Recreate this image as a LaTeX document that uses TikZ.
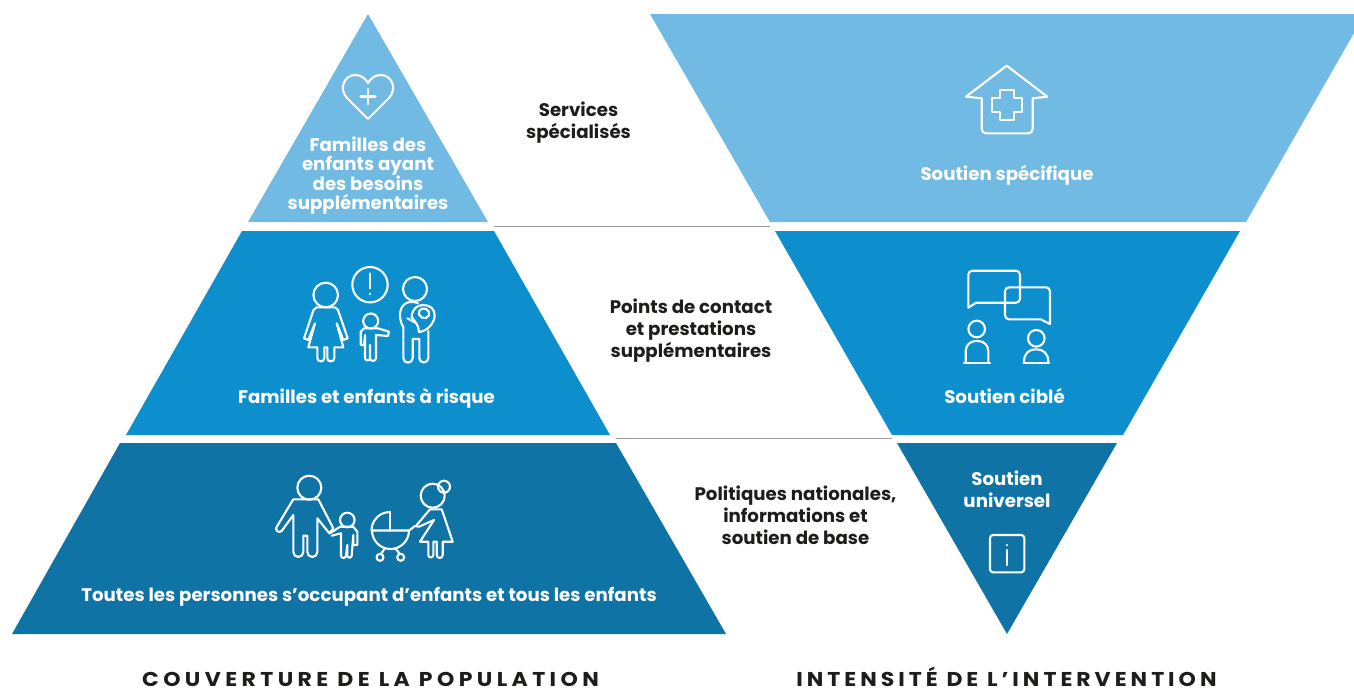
\documentclass[tikz,border=0pt]{standalone}
\usepackage{fontspec}
\setmainfont{Poppins}
\definecolor{lightblue}{HTML}{70BAE3}
\definecolor{midblue}{HTML}{0D8FCE}
\definecolor{darkblue}{HTML}{1073A6}
\definecolor{inktext}{HTML}{1D1D1B}
\tikzset{
  onbar/.style={text=white, font=\fontsize{18.2}{19.5}\selectfont\bfseries, align=center, inner sep=0pt},
  midtext/.style={text=inktext, font=\fontsize{18.2}{22}\selectfont\bfseries, align=center, inner sep=0pt},
  axistitle/.style={text=inktext, font=\fontsize{20}{22}\selectfont\bfseries\addfontfeature{FakeStretch=1.1,LetterSpace=#1}, inner sep=0pt, anchor=base},
  icon/.style={draw=white, line width=2.1pt, line join=round, line cap=round},
  rulegrey/.style={draw=gray!80, line width=0.7pt},
}
\begin{document}
\begin{tikzpicture}[x=1pt,y=-1pt]
    \useasboundingbox (0,0) rectangle (1354,688);

    % left pyramid
    \fill[lightblue] (368,14) -- (488,222) -- (248,222) -- cycle;
    \fill[midblue] (242,231) -- (494,231) -- (610,435) -- (126,435) -- cycle;
    \fill[darkblue] (120,443) -- (616,443) -- (726,634) -- (12,634) -- cycle;

    % right pyramid
    \fill[lightblue] (650,14) -- (1354,14) -- (1354,33) -- (1246,222) -- (770,222) -- cycle;
    \fill[midblue] (775,231) -- (1240,231) -- (1123,435) -- (892,435) -- cycle;
    \fill[darkblue] (897,443) -- (1117,443) -- (1007,634) -- cycle;

    % rules between the levels
    \coordinate (ruleAl) at (494,226);
    \coordinate (ruleAr) at (770,226);
    \coordinate (ruleBl) at (616,438.5);
    \coordinate (ruleBr) at (892,438.5);
    \draw[rulegrey] (ruleAl) -- (ruleAr);
    \draw[rulegrey] (ruleBl) -- (ruleBr);

    % heart
    \draw[icon] (368,119) -- (347,98) .. controls (338,88) and (345,75) .. (355,75)
        .. controls (361,75) and (365,78) .. (368,83) .. controls (371,78) and (375,75) .. (381,75)
        .. controls (391,75) and (398,88) .. (389,98) -- cycle;
    \draw[icon] (368,89) -- (368,104);
    \draw[icon] (360.5,96.5) -- (375.5,96.5);

    % woman, alert, child, man with baby
    \draw[icon] (325.7,295) circle [radius=12.3];
    \draw[icon] (316.7,307.3) -- (335,307.3) .. controls (337,308) .. (338,310) -- (347.7,338.3) -- (343.3,340) -- (336.7,323.3)
        -- (343.3,347.3) -- (334.3,347.3) -- (334.3,358) arc [start angle=0, end angle=180, radius=3.5] -- (327.3,347.3)
        -- (324.3,347.3) -- (324.3,358) arc [start angle=0, end angle=180, radius=3.5] -- (317.3,347.3)
        -- (308.3,347.3) -- (315,323.3) -- (308.3,340) -- (304,338.3) -- (313.5,310) .. controls (314.5,308) .. cycle;
    \draw[icon] (370,284.7) circle [radius=17.7];
    \draw[icon] (370,273.3) -- (370,288.3);
    \draw[icon] (370,293.7) -- (370,294);
    \draw[icon] (370.7,321) circle [radius=7.5];
    \draw[icon] (364,328.3) -- (378,328.3) -- (389,331.7) -- (388,336) -- (376,335) -- (376,358)
        arc [start angle=0, end angle=180, radius=3] -- (370,345) -- (370,358)
        arc [start angle=0, end angle=180, radius=2.5] -- (365,335) -- (364,345) -- (360.7,345) -- (360.7,331.7) -- cycle;
    \draw[icon] (415,289) circle [radius=12];
    \draw[icon] (418,303) .. controls (405,299) and (400,307) .. (400,315) .. controls (400,321) and (402,325) .. (403.3,327)
        -- (403.3,358) arc [start angle=180, end angle=0, radius=4.7] -- (412.7,339) -- (419.3,339) -- (419.3,358)
        arc [start angle=180, end angle=0, radius=4.5] -- (428.3,331);
    \draw[icon] (411.7,317) .. controls (412,309) and (417,305) .. (423.3,305) .. controls (430,305) and (435,309) .. (434.7,316)
        .. controls (434,323) and (428,331) .. (419,332);
    \draw[icon] (407.3,318.3) -- (416,323) .. controls (418,326) .. (419,332);
    \draw[icon] (411.7,317) -- (416,323);
    \draw[icon, rotate around={-25:(424,313.3)}] (424,313.3) ellipse [x radius=5.3, y radius=4.8];

    % man, child, pram, woman
    \draw[icon] (309.3,487.7) circle [radius=12];
    \draw[icon] (293.3,499.3) -- (318.3,499.3) -- (333.3,528.3) -- (329.3,533.3) -- (317.3,518.3) -- (317.3,552)
        arc [start angle=0, end angle=180, radius=5] -- (307.3,535.7) -- (303.3,535.7) -- (303.3,552)
        arc [start angle=0, end angle=180, radius=5] -- (293.3,515) -- (281.7,531)
        arc [start angle=45, end angle=225, radius=3.3] -- cycle;
    \draw[icon] (347.3,520) circle [radius=7.3];
    \draw[icon] (330,533.3) -- (340,526.7) -- (353.3,526.7) -- (357.3,531.7) -- (357.3,545) -- (353.3,545) -- (353.3,535) -- (351.7,555.5)
        arc [start angle=0, end angle=180, radius=2.2] -- (347.3,545) -- (346,555.5)
        arc [start angle=0, end angle=180, radius=2.5] -- (341,533.3) -- (331.7,535.7);
    \draw[icon] (390,512) arc [start angle=270, end angle=180, radius=18.5] -- (409,530.5)
        arc [start angle=0, end angle=180, radius=18.5];
    \draw[icon] (390,512) -- (390,530.5);
    \draw[icon] (409,530.5) -- (415,526) -- (419,526.7) -- (434,520);
    \draw[icon] (385,548) -- (381,554);
    \draw[icon] (395,548) -- (400,554);
    \draw[icon] (380,557.3) circle [radius=3.5];
    \draw[icon] (400.7,557.3) circle [radius=3.5];
    \draw[icon] (432.7,495.7) circle [radius=12];
    \draw[icon] (444,486.7) circle [radius=6];
    \draw[icon] (430,509.3) -- (416.7,525);
    \draw[icon] (430,509.3) -- (441.7,509.3) -- (452.7,541.7) -- (442.7,541.7) -- (442.7,555)
        arc [start angle=0, end angle=180, radius=3] -- (436.7,541.7) -- (433.3,541.7) -- (433.3,555)
        arc [start angle=0, end angle=180, radius=2.5] -- (428.3,541.7) -- (420,541.7) -- (434,520);

    % house
    \draw[icon] (1006.7,65.7) -- (1047.3,96.7) -- (1032.7,98.3) -- (1032.7,129)
        arc [start angle=0, end angle=90, radius=4.3] -- (986,133.3)
        arc [start angle=90, end angle=180, radius=4.3] -- (981.7,98.3) -- (966,96.7) -- cycle;
    \draw[icon] (999.7,90) -- (1013.7,90) -- (1013.7,98) -- (1021.7,98) -- (1021.7,112) -- (1013.7,112) -- (1013.7,120)
        -- (999.7,120) -- (999.7,112) -- (991.7,112) -- (991.7,98) -- (999.7,98) -- cycle;

    % speech bubbles and people
    \draw[icon] (972.3,270.7) -- (1016,270.7) arc [start angle=270, end angle=360, radius=4] -- (1020,298.7)
        arc [start angle=0, end angle=90, radius=4] -- (976,302.7) -- (968.3,307.7) -- (968.3,274.7)
        arc [start angle=180, end angle=270, radius=4];
    \draw[icon] (1009,287.3) -- (1046,287.3) arc [start angle=270, end angle=360, radius=4] -- (1050,324) -- (1040.7,319.3)
        -- (1009,319.3) arc [start angle=90, end angle=180, radius=4] -- (1005,291.3)
        arc [start angle=180, end angle=270, radius=4];
    \draw[icon] (976.7,329) circle [radius=8.3];
    \draw[icon] (965.7,362) -- (965.7,351) arc [start angle=180, end angle=270, radius=10] -- (978.3,341)
        arc [start angle=270, end angle=360, radius=10] -- (988.3,362);
    \draw[icon] (964,362.8) -- (990,362.8);
    \draw[icon] (1036.3,338.3) circle [radius=8.3];
    \draw[icon] (1024,362) .. controls (1024,353) and (1029,349.3) .. (1036,349.3)
        .. controls (1043,349.3) and (1048.3,353) .. (1048.3,362);
    \draw[icon] (1023.3,362.8) -- (1049,362.8);

    % info box
    \draw[icon, rounded corners=3pt] (990,535) rectangle (1024.3,572.3);
    \draw[icon] (1007.3,545) -- (1007.3,545.3);
    \draw[icon] (1007.3,550) -- (1007.3,565);

    % labels
    \node [onbar] (famSpec) at (368,175.5) {Familles des\\enfants ayant\\des besoins\\suppl\'ementaires};
    \node [onbar, anchor=base] (famRisk) at (366.5,403) {Familles et enfants \`a risque};
    \node [onbar, anchor=base] (famAll) at (369,601) {Toutes les personnes s'occupant d'enfants et tous les enfants};
    \node [onbar, anchor=base] (supSpec) at (1007,180) {Soutien sp\'ecifique};
    \node [onbar, anchor=base] (supTarget) at (1004.5,403) {Soutien cibl\'e};
    \node [onbar, font=\fontsize{18.2}{22}\selectfont\bfseries] (supAll) at (1007,489) {Soutien\\universel};
    \node [midtext] (midSpec) at (578.5,122.5) {Services\\sp\'ecialis\'es};
    \node [midtext] (midRisk) at (691,331) {Points de contact\\et prestations\\suppl\'ementaires};
    \node [midtext] (midAll) at (795.5,515.5) {Politiques nationales,\\informations et\\soutien de base};
    \node [axistitle=22] (axisLeft) at (370.5,686.5) {COUVERTURE DE LA POPULATION};
    \node [axistitle=20] (axisRight) at (1006.5,686.5) {INTENSIT\'E DE L'INTERVENTION};

\end{tikzpicture}
\end{document}
